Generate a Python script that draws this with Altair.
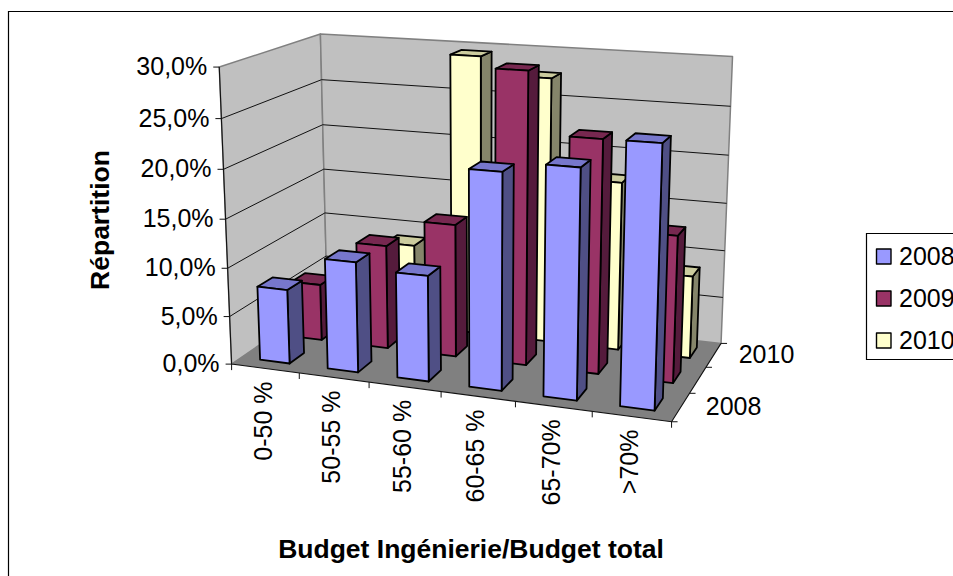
import altair as alt
import numpy as np

W, H = 953, 576

categories = ["0-50 %", "50-55 %", "55-60 %", "60-65 %", "65-70%", ">70%"]
years = ["2008", "2009", "2010"]
values_2008 = [7.7, 11.3, 10.7, 21.5, 22.5, 25.3]
values_2009 = [6.0, 10.9, 13.8, 29.7, 23.6, 14.8]
values_2010 = [4.0, 8.9, 29.5, 27.7, 17.6, 8.6]
value_ticks = [0, 5, 10, 15, 20, 25, 30]
value_labels = ["0,0%", "5,0%", "10,0%", "15,0%", "20,0%", "25,0%", "30,0%"]
depth_labels = {"2008": 0.5, "2010": 2.5}

series = [values_2008, values_2009, values_2010]
front_colors = ["#9999FF", "#993366", "#FFFFCC"]
side_colors = ["#4F4F85", "#551B3C", "#85856A"]
top_colors = ["#7777CC", "#772850", "#CCCC9E"]

# Camera calibration: (category, depth, value) -> canvas position
calibration = [
    ((0, 0, 0), (233, 364)), ((1, 0, 0), (298.7, 373)), ((2, 0, 0), (368.3, 382.5)),
    ((3, 0, 0), (440.7, 392.5)), ((4, 0, 0), (514.3, 402)), ((5, 0, 0), (590.7, 411.5)),
    ((6, 0, 0), (670.7, 421)), ((6, 1, 0), (693.3, 393.3)), ((6, 2, 0), (708, 366.7)),
    ((6, 3, 0), (720.7, 342)), ((0, 3, 0), (325.5, 300)),
    ((0, 0, 5), (230.7, 315.7)), ((0, 0, 10), (228.3, 267.7)), ((0, 0, 15), (226, 219)),
    ((0, 0, 20), (223.3, 169.3)), ((0, 0, 25), (220.7, 119.3)), ((0, 0, 30), (218.5, 67)),
    ((0, 3, 30), (320, 33)), ((0, 3, 25), (322.7, 79.3)), ((0, 3, 20), (323.3, 124)),
    ((0, 3, 15), (324, 170)), ((6, 3, 30), (733, 57)), ((6, 3, 25), (730.7, 107.3)),
    ((6, 3, 20), (728.3, 155.3)), ((6, 3, 15), (726, 203.3)), ((6, 3, 10), (724, 251)),
    ((6, 3, 5), (722, 297.3)),
]
rows, rhs = [], []
for (a, b, c), (px, py) in calibration:
    rows.append([a, b, c, 1, 0, 0, 0, 0, -px * a, -px * b, -px * c])
    rhs.append(px)
    rows.append([0, 0, 0, 0, a, b, c, 1, -py * a, -py * b, -py * c])
    rhs.append(py)
cam = np.linalg.lstsq(np.array(rows, float), np.array(rhs, float), rcond=None)[0]
CAM = np.append(cam, 1.0).reshape(3, 4)


def project(a, b, c):
    p = CAM @ np.array([a, b, c, 1.0])
    return [float(p[0] / p[2]), float(p[1] / p[2])]


def polygon(points, fill, stroke="none", width=0.0):
    ring = list(points) + [points[0]]
    return {"type": "Feature", "geometry": {"type": "Polygon", "coordinates": [ring]},
            "properties": {"fill": fill, "stroke": stroke, "sw": width}}


def line(points, stroke="#000000", width=1.0):
    return {"type": "Feature", "geometry": {"type": "LineString", "coordinates": points},
            "properties": {"stroke": stroke, "sw": width}}


def shapes(features, filled=True):
    enc = {"stroke": alt.Stroke("properties.stroke:N", scale=None),
           "strokeWidth": alt.StrokeWidth("properties.sw:Q", scale=None)}
    if filled:
        enc["fill"] = alt.Fill("properties.fill:N", scale=None)
        mark = alt.Chart(alt.Data(values=features)).mark_geoshape(strokeJoin="round")
    else:
        mark = alt.Chart(alt.Data(values=features)).mark_geoshape(filled=False, fill=None)
    return mark.encode(**enc).project(type="identity", scale=1, translate=[0, 0])


def texts(rows_, size, bold=False, angle=0, align="center"):
    return alt.Chart(alt.Data(values=rows_)).mark_text(
        font="Liberation Sans", fontSize=size, fontWeight="bold" if bold else "normal",
        angle=angle, align=align, baseline="middle", color="#000000",
    ).encode(
        x=alt.X("x:Q", scale=alt.Scale(domain=[0, W], range=[0, W]), axis=None),
        y=alt.Y("y:Q", scale=alt.Scale(domain=[0, H], range=[0, H]), axis=None),
        text="t:N",
    )


# Canvas, walls and floor
base = [polygon([[0, 0], [W, 0], [W, H], [0, H]], "#FFFFFF")]
base.append(polygon([project(0, 0, 0), project(0, 3, 0), project(0, 3, 30), project(0, 0, 30)],
                    "#C0C0C0", "#808080", 1.5))
base.append(polygon([project(0, 3, 0), project(6, 3, 0), project(6, 3, 30), project(0, 3, 30)],
                    "#C0C0C0", "#808080", 1.5))
base.append(polygon([project(0, 0, 0), project(6, 0, 0), project(6, 3, 0), project(0, 3, 0)],
                    "#808080"))

# Frame, gridlines, axes and ticks
rules = [line([[8.5, H], [8.5, 11.5], [W, 11.5]], "#000000", 1.2),
         line([[W, 233.5], [866.5, 233.5], [866.5, 359.5], [W, 359.5]], "#000000", 1.2)]
for v in value_ticks[1:-1]:
    rules.append(line([project(0, 0, v), project(0, 3, v), project(6, 3, v)], "#111111", 1.0))
rules.append(line([project(0, 0, 30), project(0, 0, 0), project(6, 0, 0), project(6, 3, 0)],
                  "#111111", 1.1))
for v in value_ticks:
    x, y = project(0, 0, v)
    rules.append(line([[x - 6, y], [x, y]], "#111111", 1.0))
for i in range(7):
    x, y = project(i, 0, 0)
    rules.append(line([[x, y], [x, y + 6]], "#111111", 1.0))
for d in range(0, 4):
    x, y = project(6, d, 0)
    rules.append(line([[x, y], [x + 6, y]], "#111111", 1.0))

# Bars, back row first so nearer rows overlap them
GAP = 0.28
bars = []
for r in (2, 1, 0):
    v0, v1 = r + GAP, r + 1 - GAP
    for i in range(len(categories)):
        h = series[r][i]
        u0, u1 = i + GAP, i + 1 - GAP
        bars.append(polygon([project(u1, v0, 0), project(u1, v1, 0), project(u1, v1, h), project(u1, v0, h)],
                            side_colors[r], "#000000", 1.8))
        bars.append(polygon([project(u0, v0, h), project(u1, v0, h), project(u1, v1, h), project(u0, v1, h)],
                            top_colors[r], "#000000", 1.8))
        bars.append(polygon([project(u0, v0, 0), project(u1, v0, 0), project(u1, v0, h), project(u0, v0, h)],
                            front_colors[r], "#000000", 1.8))

# Legend swatches
legend_rows = [(256.5, 0), (298.5, 1), (340.5, 2)]
swatches = [polygon([[876.5, y - 7.5], [891, y - 7.5], [891, y + 7.5], [876.5, y + 7.5]],
                    front_colors[k], "#000000", 1.4) for y, k in legend_rows]

value_text = []
for v, lab in zip(value_ticks, value_labels):
    x, y = project(0, 0, v)
    value_text.append({"x": x - 12, "y": y, "t": lab})
cat_text = []
for i, lab in enumerate(categories):
    x, y = project(i + 0.5, 0, 0)
    cat_text.append({"x": x - 1.5, "y": y + 13, "t": lab})
depth_text = []
for lab, d in depth_labels.items():
    x, y = project(6, d, 0)
    depth_text.append({"x": x + 25, "y": y, "t": lab})
legend_text = [{"x": 899, "y": y, "t": years[k]} for y, k in legend_rows]

chart = alt.layer(
    shapes(base),
    shapes(rules, filled=False),
    shapes(bars),
    shapes(swatches),
    texts(value_text, 25, align="right"),
    texts(cat_text, 25, angle=270, align="right"),
    texts(depth_text, 25, align="left"),
    texts(legend_text, 25, align="left"),
    texts([{"x": 471, "y": 549.5, "t": "Budget Ingénierie/Budget total"}], 26.5, bold=True),
    texts([{"x": 101, "y": 220, "t": "Répartition"}], 26.5, bold=True, angle=270),
).properties(width=W, height=H, padding=0, autosize=alt.AutoSizeParams(type="none")
).configure_view(stroke=None)

chart.save("out.html", embed_options={"renderer": "svg", "actions": False})
